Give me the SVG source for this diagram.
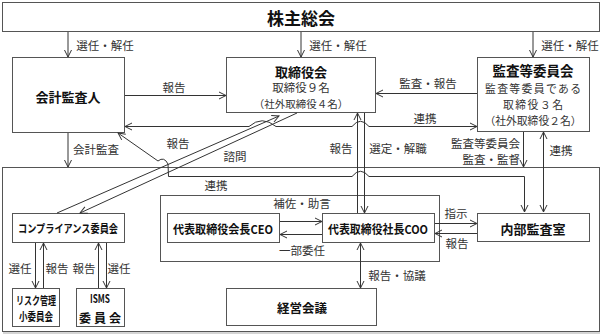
<svg xmlns="http://www.w3.org/2000/svg" width="602" height="335" viewBox="0 0 602 335">
<defs>
<marker id="a" markerWidth="10" markerHeight="10" refX="8" refY="4" orient="auto-start-reverse" markerUnits="userSpaceOnUse" overflow="visible">
<path d="M1,0.5 L8,4 L1,7.5" fill="none" stroke="#333" stroke-width="1"/>
</marker>
<style>
.box{fill:#fff;stroke:#555;stroke-width:1}
.frame{fill:none;stroke:#555;stroke-width:1}
.t{font-family:"Noto Sans CJK JP","Noto Sans",sans-serif;text-anchor:middle;dominant-baseline:central}
.ti{font-weight:700;fill:#111}
.sub{fill:#333}
.lab{font-size:11.5px;fill:#333}
.c{fill:none;stroke:#333;stroke-width:1}
.ar{marker-end:url(#a)}
.ab{marker-start:url(#a);marker-end:url(#a)}
</style>
</defs>
<rect width="602" height="335" fill="#fff"/>

<g id="frames">
<rect class="frame" x="2.5" y="167.5" width="597" height="164"/>
<line x1="3" y1="333" x2="600" y2="333" stroke="#aaa" stroke-width="1"/>
<rect class="frame" x="160.5" y="195.5" width="279" height="66"/>
</g>

<g id="kabunushi">
<rect class="box" x="2.5" y="2.5" width="597" height="29"/>
<text class="t ti" x="301" y="17" font-size="17">株主総会</text>
</g>

<g id="kaikei">
<rect class="box" x="12.5" y="57.5" width="112" height="75"/>
<text class="t ti" x="68" y="96" font-size="13">会計監査人</text>
</g>

<g id="torishimari">
<rect class="box" x="226.5" y="57.5" width="149" height="55"/>
<text class="t ti" x="301" y="71" font-size="13">取締役会</text>
<text class="t sub" x="301" y="87" font-size="11.5">取締役９名</text>
<text class="t sub" x="301" y="103" font-size="10.5">（社外取締役４名）</text>
</g>

<g id="kansa">
<rect class="box" x="477.5" y="57.5" width="112" height="74"/>
<text class="t ti" x="533" y="70" font-size="13.5">監査等委員会</text>
<text class="t sub" x="533" y="88" font-size="10.8" textLength="96" lengthAdjust="spacing">監査等委員である</text>
<text class="t sub" x="533" y="104" font-size="10.8" textLength="60" lengthAdjust="spacing">取締役３名</text>
<text class="t sub" x="533" y="120" font-size="10.8">（社外取締役２名）</text>
</g>

<g id="compliance">
<rect class="box" x="12.5" y="213.5" width="112" height="29"/>
<text class="t ti" x="68" y="228" font-size="11" textLength="100" lengthAdjust="spacingAndGlyphs">コンプライアンス委員会</text>
</g>

<g id="risk">
<rect class="box" x="12.5" y="288.5" width="47" height="38"/>
<text class="t ti" x="36" y="300" font-size="11" textLength="40" lengthAdjust="spacingAndGlyphs">リスク管理</text>
<text class="t ti" x="36" y="316" font-size="11" textLength="34" lengthAdjust="spacingAndGlyphs">小委員会</text>
</g>

<g id="isms">
<rect class="box" x="76.5" y="288.5" width="48" height="38"/>
<text class="t ti" x="100" y="298" font-size="11" textLength="20" lengthAdjust="spacingAndGlyphs">ISMS</text>
<text class="t ti" x="100" y="317" font-size="12" textLength="42" lengthAdjust="spacing">委員会</text>
</g>

<g id="ceo">
<rect class="box" x="167.5" y="213.5" width="112" height="29"/>
<text class="t ti" x="223" y="228" font-size="12" textLength="100" lengthAdjust="spacingAndGlyphs">代表取締役会長CEO</text>
</g>

<g id="coo">
<rect class="box" x="322.5" y="213.5" width="112" height="29"/>
<text class="t ti" x="378" y="228" font-size="12" textLength="100" lengthAdjust="spacingAndGlyphs">代表取締役社長COO</text>
</g>

<g id="naibu">
<rect class="box" x="477.5" y="213.5" width="112" height="28"/>
<text class="t ti" x="533" y="228" font-size="13">内部監査室</text>
</g>

<g id="keiei">
<rect class="box" x="226.5" y="288.5" width="150" height="37"/>
<text class="t ti" x="302" y="307" font-size="12.5">経営会議</text>
</g>

<g id="connectors">
<line class="c ar" x1="68" y1="32" x2="68" y2="57"/>
<line class="c ar" x1="301" y1="32" x2="301" y2="57"/>
<line class="c ar" x1="533" y1="32" x2="533" y2="57"/>
<line class="c ar" x1="125" y1="95.5" x2="226" y2="95.5"/>
<line class="c ar" x1="477" y1="93.5" x2="376" y2="93.5"/>
<path class="c ab" d="M125,126.5 L249,126.5 Q262,115 276,126.5 L352,126.5 Q360.5,116 369,126.5 L477,126.5"/>
<line class="c ar" x1="357.5" y1="213" x2="357.5" y2="113"/>
<line class="c ar" x1="364.5" y1="113" x2="364.5" y2="213"/>
<line class="c ar" x1="57" y1="213" x2="279" y2="116"/>
<line class="c ar" x1="297" y1="113" x2="80" y2="213"/>
<path class="c ab" d="M118,133 L158,161 Q164,156 168,164 L168.5,176.5 L352,176.5 Q360.5,166 369,176.5 L524.5,176.5 L524.5,212"/>
<line class="c ar" x1="68" y1="133" x2="68" y2="167"/>
<line class="c ar" x1="523.5" y1="132" x2="523.5" y2="167"/>
<line class="c ab" x1="543.5" y1="132" x2="543.5" y2="212"/>
<line class="c ar" x1="280" y1="221.5" x2="322" y2="221.5"/>
<line class="c ar" x1="322" y1="234.5" x2="280" y2="234.5"/>
<line class="c ar" x1="435" y1="223.5" x2="477" y2="223.5"/>
<line class="c ar" x1="477" y1="233.5" x2="435" y2="233.5"/>
<line class="c ab" x1="360.5" y1="243" x2="360.5" y2="288"/>
<line class="c ar" x1="35.5" y1="243" x2="35.5" y2="288"/>
<line class="c ar" x1="43.5" y1="288" x2="43.5" y2="243"/>
<line class="c ar" x1="98.5" y1="288" x2="98.5" y2="243"/>
<line class="c ar" x1="106.5" y1="243" x2="106.5" y2="288"/>
</g>

<g id="labels">
<text class="t lab" x="105" y="45">選任・解任</text>
<text class="t lab" x="338" y="45">選任・解任</text>
<text class="t lab" x="570" y="45">選任・解任</text>
<text class="t lab" x="174" y="87">報告</text>
<text class="t lab" x="428" y="83">監査・報告</text>
<text class="t lab" x="425" y="118">連携</text>
<text class="t lab" x="178" y="143">報告</text>
<text class="t lab" x="96" y="149">会計監査</text>
<text class="t lab" x="235" y="156">諮問</text>
<text class="t lab" x="341" y="148">報告</text>
<text class="t lab" x="398" y="148">選定・解職</text>
<text class="t lab" x="520" y="143" style="text-anchor:end" font-size="11">監査等委員会</text>
<text class="t lab" x="520" y="159" style="text-anchor:end" font-size="11">監査・監督</text>
<text class="t lab" x="561" y="150">連携</text>
<text class="t lab" x="216" y="185">連携</text>
<text class="t lab" x="302" y="203">補佐・助言</text>
<text class="t lab" x="302" y="250">一部委任</text>
<text class="t lab" x="456" y="213">指示</text>
<text class="t lab" x="457" y="243">報告</text>
<text class="t lab" x="397" y="275">報告・協議</text>
<text class="t lab" x="20" y="268">選任</text>
<text class="t lab" x="57" y="268">報告</text>
<text class="t lab" x="84" y="268">報告</text>
<text class="t lab" x="119" y="268">選任</text>
</g>
</svg>
